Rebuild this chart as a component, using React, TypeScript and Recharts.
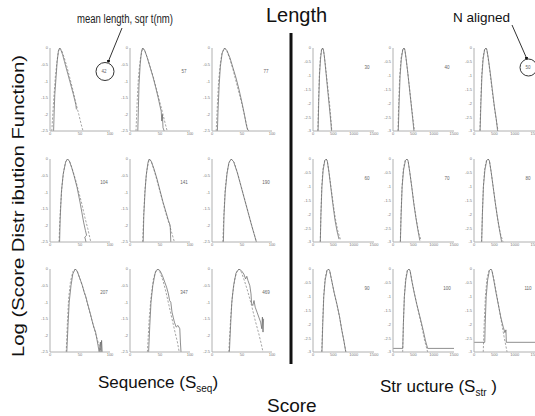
import React from 'react';
import { LineChart, Line, XAxis, YAxis } from 'recharts';

// ---------- tick values ----------
const seqTicksX = [0, 50, 100];
const seqTicksY = [0, -0.5, -1, -1.5, -2, -2.5];
const strTicksX = [0, 500, 1000, 1500];
const strTicksY = [0, -0.5, -1, -1.5, -2, -2.5, -3];

// ---------- panel labels ----------
const seqLengths = [42, 57, 77, 104, 141, 190, 207, 347, 469];
const strAligned = [30, 40, 50, 60, 70, 80, 90, 100, 110];

// ---------- sequence panels (x: score, y: log distribution) ----------
const seq42Data = [[6,-2.5],[7,-1.9],[8,-1.4],[10,-0.9],[12,-0.4],[14,-0.1],[16,0],[18,-0.05],[21,-0.2],[24,-0.4],[27,-0.6],[30,-0.8],[33,-1.0],[36,-1.2],[39,-1.4],[41,-1.55],[43,-1.7],[44,-1.85]];
const seq42Fit = [[3,-2.5],[6,-1.6],[9,-0.85],[12,-0.35],[14,-0.1],[16,0],[19,-0.05],[23,-0.25],[28,-0.55],[33,-0.9],[38,-1.25],[43,-1.65],[48,-2.0],[52,-2.3],[55,-2.5]];

const seq57Data = [[13,-2.5],[14,-1.8],[15,-1.1],[17,-0.5],[19,-0.12],[21,0],[24,-0.05],[28,-0.25],[33,-0.55],[38,-0.85],[43,-1.2],[47,-1.5],[50,-1.75],[52,-1.9],[53,-2.2],[54,-2.0],[55,-2.4],[57,-2.5]];
const seq57Fit = [[10,-2.5],[12,-1.6],[14,-0.9],[17,-0.35],[21,0],[25,-0.1],[30,-0.35],[35,-0.65],[40,-0.95],[45,-1.3],[50,-1.65],[55,-2.0],[59,-2.3],[62,-2.5]];

const seq77Data = [[9,-2.5],[10,-1.9],[12,-1.1],[14,-0.55],[17,-0.15],[21,0],[25,-0.08],[30,-0.3],[35,-0.6],[40,-0.9],[45,-1.25],[50,-1.65],[54,-2.0],[57,-2.3],[59,-2.45],[62,-2.5]];
const seq77Fit = [[7,-2.5],[9,-1.7],[11,-1.0],[14,-0.45],[17,-0.12],[21,0],[25,-0.1],[30,-0.35],[35,-0.65],[40,-1.0],[45,-1.35],[50,-1.7],[55,-2.1],[60,-2.5]];

const seq104Data = [[16,-2.5],[17,-1.8],[19,-1.0],[22,-0.45],[26,-0.1],[29,0],[32,-0.05],[36,-0.25],[40,-0.5],[45,-0.85],[50,-1.3],[53,-1.6],[56,-1.9],[59,-2.15],[61,-2.3],[58,-2.35],[60,-2.5]];
const seq104Fit = [[15,-2.5],[17,-1.6],[20,-0.8],[23,-0.35],[26,-0.08],[29,0],[33,-0.08],[38,-0.35],[43,-0.65],[48,-1.0],[53,-1.35],[58,-1.75],[63,-2.1],[68,-2.5]];

const seq141Data = [[22,-2.5],[23,-1.7],[25,-1.0],[27,-0.5],[30,-0.1],[32,0],[35,-0.05],[40,-0.3],[45,-0.6],[50,-0.95],[55,-1.3],[60,-1.6],[64,-1.85],[67,-2.0],[68,-2.5]];
const seq141Fit = [[21,-2.5],[23,-1.6],[25,-0.9],[28,-0.35],[32,0],[36,-0.1],[42,-0.45],[48,-0.85],[54,-1.25],[60,-1.65],[66,-2.0],[70,-2.25],[74,-2.5]];

const seq190Data = [[19,-2.5],[20,-1.7],[22,-1.0],[25,-0.45],[28,-0.12],[32,0],[36,-0.08],[42,-0.4],[48,-0.8],[54,-1.2],[60,-1.6],[66,-2.0],[70,-2.25],[74,-2.5]];
const seq190Fit = [[18,-2.5],[20,-1.6],[22,-0.9],[25,-0.4],[29,-0.08],[32,0],[37,-0.1],[43,-0.45],[49,-0.85],[55,-1.25],[61,-1.65],[67,-2.05],[71,-2.3],[74,-2.5]];

const seq207Data = [[28,-2.5],[30,-1.7],[32,-1.0],[35,-0.5],[38,-0.15],[42,0],[45,-0.05],[48,-0.2],[51,-0.35],[54,-0.5],[57,-0.7],[60,-0.85],[62,-1.0],[65,-1.2],[68,-1.4],[70,-1.55],[73,-1.75],[76,-1.9],[78,-2.1],[80,-2.3],[82,-2.5],[84,-2.2],[85,-2.5],[86,-2.15],[87,-2.5]];
const seq207Fit = [[27,-2.5],[29,-1.6],[31,-0.9],[34,-0.4],[38,-0.08],[42,0],[46,-0.1],[52,-0.4],[58,-0.75],[64,-1.15],[70,-1.55],[76,-1.95],[81,-2.25],[85,-2.5]];

const seq347Data = [[31,-2.5],[33,-1.7],[35,-1.0],[38,-0.5],[42,-0.12],[46,0],[50,-0.05],[54,-0.2],[58,-0.4],[61,-0.55],[64,-0.75],[66,-0.95],[68,-1.0],[70,-1.3],[72,-1.45],[74,-1.6],[77,-1.75],[80,-1.7],[83,-1.8],[84,-2.2],[85,-2.5]];
const seq347Fit = [[29,-2.5],[32,-1.5],[35,-0.85],[39,-0.3],[43,-0.05],[46,0],[50,-0.1],[55,-0.35],[60,-0.7],[65,-1.1],[70,-1.5],[75,-1.9],[79,-2.2],[82,-2.5]];

const seq469Data = [[29,-2.5],[31,-1.7],[33,-1.0],[36,-0.5],[40,-0.12],[45,0],[49,-0.05],[53,-0.15],[56,-0.3],[58,-0.22],[60,-0.35],[63,-0.5],[65,-0.75],[66,-1.05],[68,-1.1],[70,-0.95],[72,-1.15],[75,-1.3],[78,-1.45],[81,-1.6],[83,-1.8],[84,-1.45],[85,-1.9],[86,-1.5]];
const seq469Fit = [[28,-2.5],[31,-1.5],[34,-0.8],[38,-0.3],[42,-0.05],[45,0],[49,-0.1],[54,-0.35],[60,-0.7],[66,-1.1],[72,-1.55],[78,-1.95],[82,-2.25],[85,-2.5]];

// ---------- structure panels ----------
const str30Data = [[125,-3],[140,-2],[160,-1],[185,-0.4],[210,-0.08],[234,0],[255,-0.05],[280,-0.3],[320,-0.9],[360,-1.5],[400,-2.1],[440,-2.7],[455,-3]];
const str30Fit = [[118,-3],[135,-2],[155,-1],[180,-0.35],[210,-0.05],[234,0],[260,-0.1],[300,-0.55],[340,-1.1],[380,-1.65],[420,-2.2],[463,-3]];

const str40Data = [[130,-3],[150,-2],[175,-1],[205,-0.4],[240,-0.07],[268,0],[290,-0.05],[320,-0.35],[360,-0.85],[400,-1.4],[440,-1.95],[480,-2.5],[515,-3]];
const str40Fit = [[122,-3],[140,-2],[165,-1],[200,-0.35],[240,-0.05],[268,0],[295,-0.1],[335,-0.55],[380,-1.1],[425,-1.7],[470,-2.3],[528,-3]];

const str50Data = [[150,-3],[170,-2],[195,-1],[225,-0.4],[260,-0.07],[292,0],[315,-0.05],[350,-0.35],[400,-0.9],[450,-1.5],[500,-2.1],[550,-2.6],[580,-3]];
const str50Fit = [[146,-3],[165,-2],[190,-1],[220,-0.35],[260,-0.05],[292,0],[320,-0.1],[365,-0.55],[415,-1.15],[465,-1.75],[520,-2.35],[592,-3]];

const str60Data = [[180,-3],[195,-2],[220,-1],[250,-0.4],[290,-0.06],[324,0],[350,-0.06],[390,-0.45],[440,-1.05],[490,-1.65],[540,-2.2],[590,-2.6],[640,-2.9]];
const str60Fit = [[178,-3],[195,-2],[215,-1],[245,-0.35],[290,-0.04],[324,0],[355,-0.1],[400,-0.55],[450,-1.1],[500,-1.65],[550,-2.15],[610,-2.6],[682,-2.95]];

const str70Data = [[182,-3],[200,-2],[225,-1],[260,-0.4],[305,-0.06],[341,0],[370,-0.06],[410,-0.45],[460,-1.0],[510,-1.6],[560,-2.1],[610,-2.55],[660,-2.95]];
const str70Fit = [[180,-3],[198,-2],[222,-1],[255,-0.35],[300,-0.04],[341,0],[375,-0.1],[420,-0.55],[470,-1.1],[520,-1.65],[575,-2.2],[630,-2.65],[691,-2.95]];

const str80Data = [[189,-3],[207,-2],[232,-1],[268,-0.4],[312,-0.06],[349,0],[378,-0.06],[420,-0.45],[470,-1.0],[520,-1.55],[570,-2.05],[620,-2.5],[680,-3]];
const str80Fit = [[187,-3],[205,-2],[230,-1],[262,-0.35],[308,-0.04],[349,0],[384,-0.1],[430,-0.55],[480,-1.1],[535,-1.7],[590,-2.25],[650,-2.7],[714,-3]];

const str90Data = [[220,-3],[240,-2],[265,-1],[300,-0.4],[345,-0.06],[380,0],[410,-0.06],[450,-0.35],[520,-0.85],[585,-1.25],[650,-1.7],[706,-2.2],[760,-2.6],[805,-3]];
const str90Fit = [[215,-3],[236,-2],[262,-1],[296,-0.35],[342,-0.04],[380,0],[415,-0.1],[460,-0.42],[525,-0.9],[590,-1.3],[655,-1.75],[710,-2.2],[765,-2.65],[811,-3]];

const str100Data = [[0,-2.87],[240,-2.87],[255,-2],[280,-1],[315,-0.4],[355,-0.06],[390,0],[420,-0.06],[465,-0.45],[520,-0.85],[580,-1.25],[640,-1.6],[700,-1.95],[740,-2.2],[800,-2.6],[852,-2.87],[1500,-2.87]];
const str100Fit = [[238,-3],[255,-2],[278,-1],[310,-0.35],[352,-0.04],[390,0],[425,-0.1],[475,-0.5],[530,-0.9],[590,-1.3],[650,-1.7],[710,-2.1],[780,-2.6],[852,-3]];

const str110Data = [[0,-2.65],[265,-2.65],[275,-2],[300,-1],[335,-0.4],[378,-0.06],[413,0],[440,-0.06],[480,-0.35],[540,-0.85],[600,-1.3],[660,-1.75],[720,-2.1],[760,-2.3],[785,-2.2],[795,-2.65],[1500,-2.65]];
const str110Fit = [[227,-3],[250,-2],[280,-1],[318,-0.35],[370,-0.04],[413,0],[450,-0.1],[500,-0.45],[560,-0.95],[620,-1.45],[680,-1.95],[740,-2.45],[780,-2.75],[813,-3]];

const seqPanels = [
  [seq42Data, seq42Fit], [seq57Data, seq57Fit], [seq77Data, seq77Fit],
  [seq104Data, seq104Fit], [seq141Data, seq141Fit], [seq190Data, seq190Fit],
  [seq207Data, seq207Fit], [seq347Data, seq347Fit], [seq469Data, seq469Fit],
];
const strPanels = [
  [str30Data, str30Fit], [str40Data, str40Fit], [str50Data, str50Fit],
  [str60Data, str60Fit], [str70Data, str70Fit], [str80Data, str80Fit],
  [str90Data, str90Fit], [str100Data, str100Fit], [str110Data, str110Fit],
];

// ---------- layout ----------
const SEQ_COLS = [50, 130, 212];
const STR_COLS = [313, 393, 474];
const ROWS = [48, 159, 269];
const PLOT_H = 83;
const Y_AXIS_W = 18;
const TOP_M = 3;
const RIGHT_M = 9;
const X_AXIS_H = 9;
const FONT = '"Liberation Sans", Arial, Helvetica, sans-serif';

function buildRows(data: number[][], fit: number[][]) {
  return [
    ...data.map(([x, y]) => ({ x, s: y })),
    ...fit.map(([x, y]) => ({ x, d: y })),
  ];
}

type PanelProps = {
  left: number; top: number; plotW: number;
  data: number[][]; fit: number[][];
  xDomain: [number, number]; yDomain: [number, number];
  xTicks: number[]; yTicks: number[];
};

function Panel({ left, top, plotW, data, fit, xDomain, yDomain, xTicks, yTicks }: PanelProps) {
  const rows = buildRows(data, fit);
  const tickStyle = { fontSize: 4, fill: '#777', fontFamily: FONT };
  return (
    <div style={{ position: 'absolute', left: left - Y_AXIS_W, top: top - TOP_M }}>
      <LineChart
        width={Y_AXIS_W + plotW + RIGHT_M}
        height={TOP_M + PLOT_H + X_AXIS_H}
        data={rows}
        margin={{ top: TOP_M, right: RIGHT_M, left: 0, bottom: 0 }}
      >
        <XAxis dataKey="x" type="number" domain={xDomain} ticks={xTicks} allowDataOverflow
          height={X_AXIS_H} tickSize={1} tickMargin={0.5} tickLine={false}
          axisLine={{ stroke: '#b0b0b0', strokeWidth: 1 }} tick={tickStyle} interval={0} />
        <YAxis type="number" domain={yDomain} ticks={yTicks} allowDataOverflow
          width={Y_AXIS_W} tickSize={1} tickMargin={1} tickLine={false}
          axisLine={{ stroke: '#b0b0b0', strokeWidth: 1 }} tick={tickStyle} interval={0} />
        <Line dataKey="d" type="linear" stroke="#9a9a9a" strokeWidth={0.9} strokeDasharray="2.2 1.6"
          dot={false} connectNulls isAnimationActive={false} />
        <Line dataKey="s" type="linear" stroke="#6a6a6a" strokeWidth={0.75}
          dot={false} connectNulls isAnimationActive={false} />
      </LineChart>
    </div>
  );
}

export default function App() {
  const panels: React.ReactNode[] = [];
  const labels: React.ReactNode[] = [];
  seqPanels.forEach(([data, fit], i) => {
    const left = SEQ_COLS[i % 3];
    const top = ROWS[Math.floor(i / 3)];
    panels.push(
      <Panel key={'q' + i} left={left} top={top} plotW={60} data={data} fit={fit}
        xDomain={[0, 100]} yDomain={[-2.5, 0]} xTicks={seqTicksX} yTicks={seqTicksY} />
    );
    labels.push(
      <text key={'ql' + i} x={left + 54} y={top + 24.5} fontSize={4.5} fill="#666" textAnchor="middle" fontFamily={FONT}>
        {seqLengths[i]}
      </text>
    );
  });
  strPanels.forEach(([data, fit], i) => {
    const left = STR_COLS[i % 3];
    const top = ROWS[Math.floor(i / 3)];
    panels.push(
      <Panel key={'r' + i} left={left} top={top} plotW={61} data={data} fit={fit}
        xDomain={[0, 1500]} yDomain={[-3, 0]} xTicks={strTicksX} yTicks={strTicksY} />
    );
    labels.push(
      <text key={'rl' + i} x={left + 54} y={top + 21} fontSize={4.5} fill="#666" textAnchor="middle" fontFamily={FONT}>
        {strAligned[i]}
      </text>
    );
  });

  return (
    <div style={{ position: 'absolute', left: 0, top: 0, width: 535, height: 416, background: '#fff', overflow: 'hidden' }}>
      {panels}
      <svg width={535} height={416} style={{ position: 'absolute', left: 0, top: 0, pointerEvents: 'none' }}>
        <defs>
          <marker id="dot" viewBox="0 0 4 4" refX="2" refY="2" markerWidth="3" markerHeight="3">
            <circle cx="2" cy="2" r="2" fill="#111" />
          </marker>
        </defs>
        {labels}
        <text x={266} y={22} fontSize={20} fill="#111" fontFamily={FONT}>Length</text>
        <text x={77} y={23} fontSize={12.5} fill="#222" fontFamily={FONT}
          textLength={96} lengthAdjust="spacingAndGlyphs">mean length, sqr  t(nm)</text>
        <text x={453} y={22} fontSize={13.5} fill="#111" fontFamily={FONT}>N aligned</text>
        <line x1={122} y1={28} x2={108.5} y2={61} stroke="#333" strokeWidth={1} markerEnd="url(#dot)" />
        <circle cx={105} cy={71.5} r={9} fill="none" stroke="#333" strokeWidth={1} />
        <line x1={512} y1={25} x2={526.5} y2={58} stroke="#333" strokeWidth={1} markerEnd="url(#dot)" />
        <circle cx={528.5} cy={67.5} r={8.5} fill="none" stroke="#333" strokeWidth={1} />
        <line x1={291} y1={33} x2={291} y2={364} stroke="#111" strokeWidth={3} />
        <text transform="translate(24,206) rotate(-90)" fontSize={17} fill="#111" textAnchor="middle" fontFamily={FONT}
          textLength={302} lengthAdjust="spacingAndGlyphs">Log (Score Distr ibution Function)</text>
        <text x={98} y={388} fontSize={17} fill="#111" fontFamily={FONT}>
          Sequence (S<tspan fontSize={10} dy={4}>seq</tspan><tspan dy={-4}>)</tspan>
        </text>
        <text x={380} y={392} fontSize={17} fill="#111" fontFamily={FONT}>
          Str ucture (S<tspan fontSize={10} dy={4}>str</tspan><tspan dy={-4}> )</tspan>
        </text>
        <text x={267} y={412} fontSize={19} fill="#111" fontFamily={FONT}>Score</text>
      </svg>
    </div>
  );
}
